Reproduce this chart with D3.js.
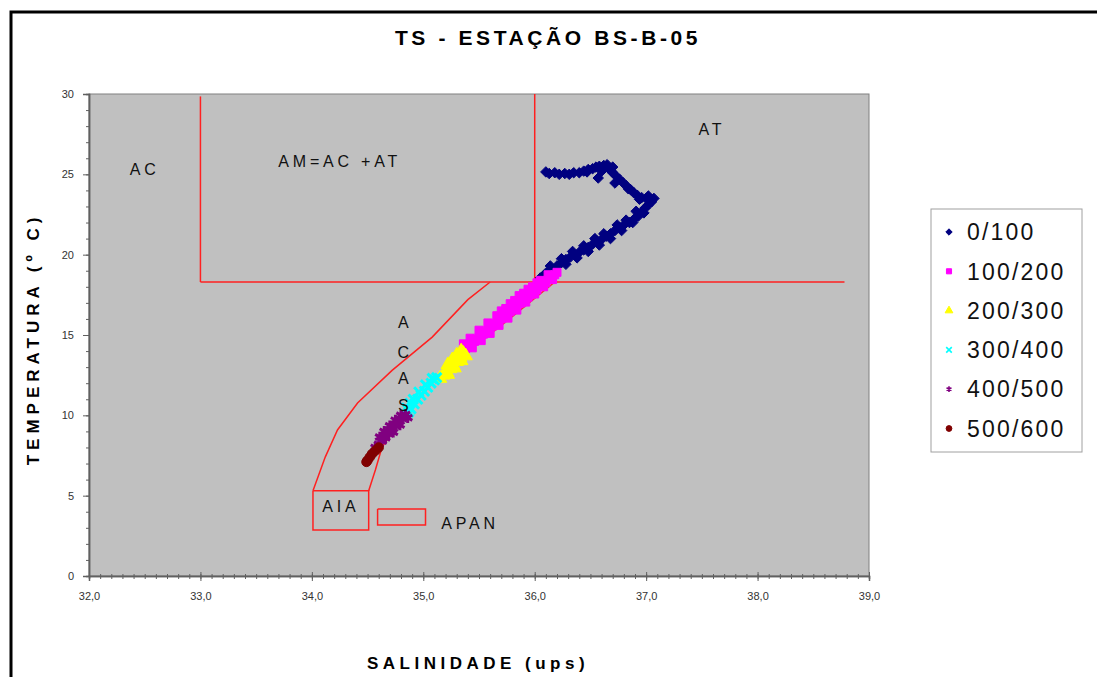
<!DOCTYPE html>
<html>
<head>
<meta charset="utf-8">
<script src="https://cdn.jsdelivr.net/npm/d3@7"></script>
<style>
  body { margin: 0; background: #fff; }
  svg { font-family: Arial, "Liberation Sans", sans-serif; }
</style>
</head>
<body>
<div id="chart"></div>
<script>
// TS diagram data (salinity, temperature) per depth band
var depth0_100 = [
  [36.10,25.15],[36.13,25.05],[36.18,25.10],[36.22,25.00],[36.27,25.05],[36.31,25.00],[36.35,25.10],
  [36.40,25.10],[36.44,25.20],[36.48,25.30],[36.52,25.35],[36.55,25.45],[36.58,25.50],[36.62,25.55],
  [36.65,25.60],[36.66,25.40],[36.68,25.25],[36.70,25.10],[36.73,24.90],[36.76,24.70],[36.79,24.50],
  [36.82,24.30],[36.86,24.05],[36.89,23.85],[36.92,23.70],[36.96,23.55],[37.00,23.50],[37.04,23.45],
  [37.07,23.50],[37.05,23.30],[37.02,23.10],[36.99,22.90],[36.96,22.65],[36.93,22.40],[36.89,22.20],
  [36.85,22.00],[36.80,21.85],[36.76,21.70],[36.72,21.50],[36.68,21.30],[36.64,21.15],[36.60,20.95],
  [36.56,20.85],[36.52,20.65],[36.48,20.45],[36.44,20.30],[36.40,20.15],[36.36,20.00],[36.32,19.85],
  [36.28,19.70],[36.24,19.50],[36.20,19.30],[36.16,19.10],[36.12,18.90],[36.08,18.70],
  [36.98,22.60],[36.88,22.00],[36.78,21.50],[36.68,21.00],[36.58,20.60],[36.48,20.20],[36.38,19.80],
  [36.28,19.40],[36.18,19.00],[36.57,24.77],[36.72,24.46],[36.60,25.20],[36.47,25.15],
  [36.62,25.35],[36.70,25.45],[36.84,24.10],[36.94,23.45],[37.02,23.65],[36.91,22.70],[36.82,22.15],
  [36.74,21.85],[36.62,21.30],[36.54,21.00],[36.44,20.55],[36.34,20.20],[36.24,19.75],[36.14,19.30],
  [36.10,18.85],[36.05,18.55]
];
var depth100_200 = [
  [36.18,18.75],[36.14,18.45],[36.10,18.25],[36.06,18.05],[36.02,17.80],[35.98,17.60],[35.94,17.35],
  [35.90,17.15],[35.86,16.95],[35.82,16.70],[35.78,16.45],[35.74,16.20],[35.70,16.00],[35.66,15.75],
  [35.62,15.55],[35.58,15.30],[35.54,15.05],[35.50,14.85],[35.46,14.60],[35.42,14.35],[35.38,14.15],
  [36.12,18.75],[36.05,18.40],[35.98,18.00],[35.90,17.60],[35.82,17.15],[35.74,16.65],[35.66,16.20],
  [35.58,15.75],[35.50,15.30],[35.42,14.80],[35.36,14.45],
  [36.16,18.45],[36.08,18.00],[36.00,17.55],[35.92,17.05],[35.84,16.55],[35.76,16.05],[35.68,15.60],
  [35.60,15.10],[35.52,14.65],[35.44,14.20],
  [36.16,18.60],[36.08,18.15],[35.96,17.50],[35.88,17.00],[35.80,16.60],[35.72,16.10],[35.64,15.65],
  [35.56,15.20],[35.48,14.75],[35.40,14.25],[35.86,17.45],[35.78,16.95],[35.70,16.50],[36.20,18.90],
  [36.02,18.25],[35.94,17.85]
];
var depth200_300 = [
  [35.36,13.85],[35.33,13.60],[35.30,13.35],[35.27,13.10],[35.24,12.90],[35.21,12.70],[35.18,12.50],
  [35.15,12.30],[35.34,14.00],[35.30,13.75],[35.26,13.45],[35.22,13.15],[35.38,13.70],[35.34,13.40],
  [35.28,12.95],[35.22,12.55]
];
var depth300_400 = [
  [35.12,12.35],[35.10,12.20],[35.07,12.00],[35.04,11.75],[35.01,11.50],[34.98,11.25],[34.95,11.00],
  [34.92,10.70],[34.89,10.40],[34.87,10.20],[35.08,12.30],[35.02,11.90],[34.96,11.45],[34.91,11.00],
  [34.88,10.75],[34.85,10.45]
];
var depth400_500 = [
  [34.84,10.05],[34.81,9.80],[34.78,9.60],[34.75,9.35],[34.72,9.10],[34.69,8.85],[34.66,8.60],
  [34.63,8.40],[34.60,8.20],[34.57,8.00],[34.80,10.00],[34.75,9.70],[34.70,9.35],[34.65,9.00],[34.61,8.65],
  [34.86,9.85],[34.79,9.40],[34.73,8.95]
];
var depth500_600 = [
  [34.60,8.00],[34.57,7.80],[34.54,7.60],[34.52,7.40],[34.50,7.20],[34.49,7.10]
];

var seriesNames = ["0/100", "100/200", "200/300", "300/400", "400/500", "500/600"];
var seriesColors = ["#000080", "#ff00ff", "#ffff00", "#00ffff", "#800080", "#800000"];

var xTicks = [32, 33, 34, 35, 36, 37, 38, 39];
var yTicks = [0, 5, 10, 15, 20, 25, 30];

// water mass boundaries (salinity, temperature)
var amLeftLine = [[33.0, 18.3], [33.0, 29.85]];
var atLeftLine = [[36.0, 18.3], [36.0, 30]];
var baseLine = [[33.0, 18.3], [38.78, 18.3]];
var acasOuter = [[35.60, 18.3], [35.40, 17.2], [35.08, 14.87], [34.72, 12.8], [34.41, 10.77], [34.23, 9.09], [34.12, 7.4], [34.01, 5.3]];
var acasInner = [[36.18, 18.3], [35.70, 15.6], [35.18, 12.82], [34.85, 10.14], [34.63, 8.03], [34.57, 6.6], [34.51, 5.3]];
var aiaBox = [[34.01, 5.3], [34.51, 5.3], [34.51, 2.86], [34.01, 2.86], [34.01, 5.3]];
var apanBox = [[34.59, 4.17], [35.02, 4.17], [35.02, 3.17], [34.59, 3.17], [34.59, 4.17]];

var massLabels = [
  { text: "AC", s: 32.5, t: 25.3 },
  { text: "AM=AC +AT", s: 34.25, t: 25.8 },
  { text: "AT", s: 37.59, t: 27.8 },
  { text: "A", s: 34.82, t: 15.8 },
  { text: "C", s: 34.82, t: 13.9 },
  { text: "A", s: 34.82, t: 12.3 },
  { text: "S", s: 34.82, t: 10.6 },
  { text: "AIA", s: 34.26, t: 4.35 },
  { text: "APAN", s: 35.42, t: 3.3 }
];

var width = 1097, height = 677;
var svg = d3.select('#chart').append('svg')
  .attr('width', width)
  .attr('height', height);

// outer frame (left and top edges visible)
svg.append('path')
  .attr('d', 'M11,' + height + 'V12H' + (width + 5))
  .style('fill', 'none')
  .style('stroke', '#000')
  .attr('stroke-width', 3);

var x = d3.scaleLinear().domain([32, 39]).range([89, 869]);
var y = d3.scaleLinear().domain([0, 30]).range([576, 94]);

// plot area
svg.append('rect')
  .attr('x', x(32)).attr('y', y(30))
  .attr('width', x(39) - x(32)).attr('height', y(0) - y(30))
  .style('fill', '#c0c0c0')
  .style('stroke', '#808080')
  .attr('stroke-width', 1);

// title
svg.append('text')
  .attr('x', 548).attr('y', 45)
  .attr('text-anchor', 'middle')
  .style('font-size', '21px').style('font-weight', 'bold')
  .style('letter-spacing', '3.6px')
  .text('TS - ESTAÇÃO BS-B-05');

// axes
var fmt = function (d) { return d.toFixed(1).replace('.', ','); };
var xMinor = d3.range(320, 391).map(function (d) { return d / 10; });
var yMinor = d3.range(0, 31);

var gxMinor = svg.append('g').attr('transform', 'translate(0,' + y(0) + ')')
  .call(d3.axisBottom(x).tickValues(xMinor).tickSize(3).tickFormat(''));
var gx = svg.append('g').attr('transform', 'translate(0,' + y(0) + ')')
  .call(d3.axisBottom(x).tickValues(xTicks).tickSize(5).tickPadding(11).tickFormat(fmt));
var gyMinor = svg.append('g').attr('transform', 'translate(' + x(32) + ',0)')
  .call(d3.axisLeft(y).tickValues(yMinor).tickSize(3).tickFormat(''));
var gy = svg.append('g').attr('transform', 'translate(' + x(32) + ',0)')
  .call(d3.axisLeft(y).tickValues(yTicks).tickSize(6).tickPadding(9));

[gx, gy, gxMinor, gyMinor].forEach(function (g) {
  g.select('.domain').style('stroke', '#606060').attr('stroke-width', 1.5);
  g.selectAll('line').style('stroke', '#606060');
  g.selectAll('text').style('font-size', '11px').style('fill', '#333')
    .style('font-family', 'Arial, "Liberation Sans", sans-serif');
});
gx.selectAll('line').attr('y1', -4);
gxMinor.selectAll('line').attr('y1', -2);

// axis titles
svg.append('text')
  .attr('x', 478).attr('y', 669)
  .attr('text-anchor', 'middle')
  .style('font-size', '17px').style('font-weight', 'bold')
  .style('letter-spacing', '4.5px')
  .text('SALINIDADE (ups)');

svg.append('text')
  .attr('transform', 'translate(39,339) rotate(-90)')
  .attr('text-anchor', 'middle')
  .style('font-size', '17px').style('font-weight', 'bold')
  .style('letter-spacing', '5px')
  .text('TEMPERATURA (º C)');

// water mass boundaries
var line = d3.line()
  .x(function (d) { return x(d[0]); })
  .y(function (d) { return y(d[1]); });

[amLeftLine, atLeftLine, baseLine, acasOuter, acasInner, aiaBox, apanBox].forEach(function (pts) {
  svg.append('path')
    .attr('d', line(pts))
    .style('fill', 'none')
    .style('stroke', '#ff2020')
    .attr('stroke-width', 1.5);
});

// scatter
var symbols = [
  { type: d3.symbolDiamond2 || d3.symbolDiamond, size: 70, stroke: false },
  { type: d3.symbolSquare, size: 64, stroke: false },
  { type: d3.symbolTriangle, size: 80, stroke: false },
  { type: d3.symbolTimes || d3.symbolCross, size: 60, stroke: true },
  { type: d3.symbolAsterisk || d3.symbolStar, size: 80, stroke: true },
  { type: d3.symbolCircle, size: 70, stroke: false }
];
var allSeries = [depth0_100, depth100_200, depth200_300, depth300_400, depth400_500, depth500_600];

function styleSymbol(sel, i) {
  if (symbols[i].stroke) {
    sel.style('fill', 'none').style('stroke', seriesColors[i]).attr('stroke-width', 3);
  } else {
    sel.style('fill', seriesColors[i]).style('stroke', seriesColors[i]).attr('stroke-width', 1);
  }
}

allSeries.forEach(function (pts, i) {
  var sym = d3.symbol().type(symbols[i].type).size(symbols[i].size);
  var pSel = svg.append('g').selectAll('path')
    .data(pts)
    .enter().append('path')
    .attr('d', sym)
    .attr('transform', function (d) { return 'translate(' + x(d[0]) + ',' + y(d[1]) + ')'; });
  styleSymbol(pSel, i);
});

// water mass labels, drawn over the points
svg.selectAll('.mass')
  .data(massLabels)
  .enter().append('text')
  .attr('class', 'mass')
  .attr('x', function (d) { return x(d.s); })
  .attr('y', function (d) { return y(d.t); })
  .attr('dy', '0.35em')
  .attr('text-anchor', 'middle')
  .style('font-size', '16px')
  .style('letter-spacing', function (d) { return d.text.length > 1 ? '3.8px' : '0px'; })
  .style('fill', '#111')
  .text(function (d) { return d.text; });

// legend
var legend = svg.append('g');
legend.append('rect')
  .attr('x', 931).attr('y', 209)
  .attr('width', 151).attr('height', 243)
  .style('fill', '#fff')
  .style('stroke', '#a0a0a0');

seriesNames.forEach(function (name, i) {
  var ly = 232 + i * 39.3;
  var sym = d3.symbol().type(symbols[i].type).size(symbols[i].stroke ? 22 : 26);
  var m = legend.append('path')
    .attr('d', sym)
    .attr('transform', 'translate(949,' + ly + ')');
  styleSymbol(m, i);
  if (symbols[i].stroke) m.attr('stroke-width', 1.6);
  legend.append('text')
    .attr('x', 967).attr('y', ly)
    .attr('dy', '0.36em')
    .style('font-size', '23px')
    .style('letter-spacing', '2.2px')
    .style('fill', '#111')
    .text(name);
});
</script>
</body>
</html>
